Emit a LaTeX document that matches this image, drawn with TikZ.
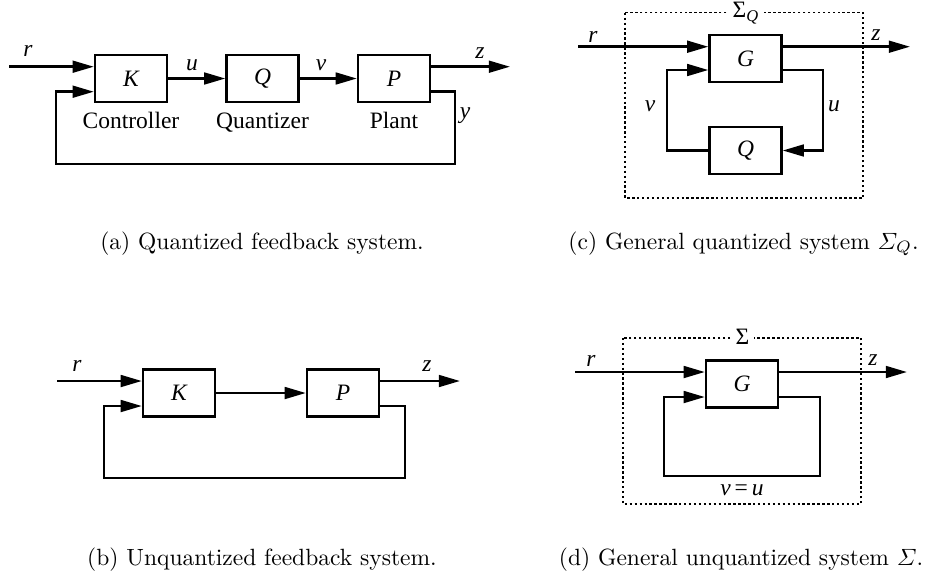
\documentclass[tikz,border=0pt]{standalone}
\usepackage{amsmath}
\usepackage{fontspec}
\newfontfamily\tms{Liberation Serif}
\usetikzlibrary{arrows.meta}
\begin{document}
\begin{tikzpicture}[x=0.4255pt,y=-0.4255pt,
  blk/.style={draw,line width=1.05pt,minimum width=30.6pt,minimum height=20pt,inner sep=0pt,font=\tms\itshape},
  arr/.style={line width=1.05pt,-{Triangle[length=9pt,width=5pt]}},
  lbl/.style={font=\tms\itshape,anchor=base,inner sep=0pt},
  txt/.style={font=\tms,anchor=base,inner sep=0pt},
  captxt/.style={anchor=base,inner sep=0pt},
  frame/.style={line width=0.55pt,dash pattern=on 1pt off 1.1pt},
  sig/.style={fill=white,inner sep=2pt,anchor=base,font=\tms},
]
\useasboundingbox (0,0) rectangle (930,579);

% ---------- (a) ----------
\node[blk] (K1) at (131,78.5) {K};
\node[blk] (Q1) at (262.5,78.5) {Q};
\node[blk] (P1) at (394,78.5) {P};
\coordinate (r1) at (9,66.7);
\coordinate (z1) at (510,66.7);
\coordinate (fb1) at (455,91.7);
\coordinate (fbl1) at (56,164);
\draw[arr] (r1) -- (r1 -| K1.west);
\draw[arr] (K1.east) -- (Q1.west);
\draw[arr] (Q1.east) -- (P1.west);
\draw[arr] (z1 -| P1.east) -- (z1);
\draw[arr] (fb1 -| P1.east) -- (fb1) |- (fbl1) |- (fb1 -| K1.west);
\node[lbl] (rl1) at (28,56) {r};
\node[lbl] (ul1) at (192,70) {u};
\node[lbl] (vl1) at (321,70) {v};
\node[lbl] (zl1) at (480,58) {z};
\node[lbl] (yl1) at (465,118) {y};
\node[txt] (ct1) at (131,128) {Controller};
\node[txt] (qt1) at (262.5,128) {Quantizer};
\node[txt] (pt1) at (394,128) {Plant};
\node[captxt] (ca) at (262,249) {(a) Quantized feedback system.};

% ---------- (c) ----------
\draw[frame] (625,12.7) rectangle (863,198);
\node[sig] (S3) at (746,17.5) {Σ\textsubscript{\itshape Q}};
\node[blk] (G3) at (745.5,58.5) {G};
\node[blk] (Q3) at (745.5,150.5) {Q};
\coordinate (r3) at (578,46.7);
\coordinate (z3) at (910,46.7);
\coordinate (u3) at (823,70);
\coordinate (v3) at (667,70);
\draw[arr] (r3) -- (r3 -| G3.west);
\draw[arr] (z3 -| G3.east) -- (z3);
\draw[arr] (u3 -| G3.east) -- (u3) |- (Q3.east);
\draw[arr] (Q3.west) -| (v3) -- (v3 -| G3.west);
\node[lbl] (rl3) at (593,42.5) {r};
\node[lbl] (zl3) at (876,40) {z};
\node[lbl] (vl3) at (650,111.5) {v};
\node[lbl] (ul3) at (834,111.5) {u};
\node[captxt] (cc) at (743.5,249) {(c) General quantized system $\varSigma_Q$.};

% ---------- (b) ----------
\node[blk] (K2) at (179,393) {K};
\node[blk] (P2) at (343,393) {P};
\coordinate (r2) at (57,381);
\coordinate (z2) at (460,381);
\coordinate (fb2) at (405,406);
\coordinate (fbl2) at (104,478);
\draw[arr] (r2) -- (r2 -| K2.west);
\draw[arr] (K2.east) -- (P2.west);
\draw[arr] (z2 -| P2.east) -- (z2);
\draw[arr] (fb2 -| P2.east) -- (fb2) |- (fbl2) |- (fb2 -| K2.west);
\node[lbl] (rl2) at (77,371.6) {r};
\node[lbl] (zl2) at (427,371.6) {z};
\node[captxt] (cb) at (262,565) {(b) Unquantized feedback system.};

% ---------- (d) ----------
\draw[frame] (623,338) rectangle (861,504);
\node[sig] (S4) at (742.5,344.5) {Σ};
\node[blk] (G4) at (742,384) {G};
\coordinate (r4) at (575,372);
\coordinate (z4) at (907,372);
\coordinate (fb4) at (820,397);
\coordinate (fbl4) at (664,476);
\draw[arr] (r4) -- (r4 -| G4.west);
\draw[arr] (z4 -| G4.east) -- (z4);
\draw[arr] (fb4 -| G4.east) -- (fb4) |- (fbl4) |- (fb4 -| G4.west);
\node[lbl] (rl4) at (591,366) {r};
\node[lbl] (zl4) at (873,365) {z};
\node[txt] (vu4) at (742,495) {\itshape v\,\upshape=\,\itshape u};
\node[captxt] (cd) at (741,565) {(d) General unquantized system $\varSigma$.};
\end{tikzpicture}
\end{document}
